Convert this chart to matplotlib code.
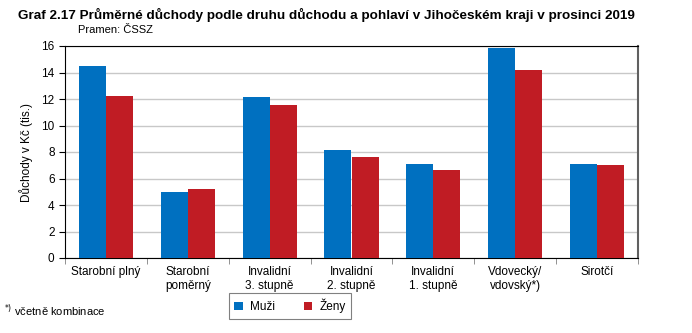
import matplotlib.pyplot as plt
import numpy as np

plt.rcParams['font.family'] = ['Liberation Sans', 'DejaVu Sans']

kategorie = ['Starobní plný', 'Starobní\npoměrný', 'Invalidní\n3. stupně', 'Invalidní\n2. stupně',
             'Invalidní\n1. stupně', 'Vdovecký/\nvdovský*)', 'Sirotčí']
muzi = [14.5, 4.98, 12.15, 8.15, 7.1, 15.85, 7.1]
zeny = [12.25, 5.2, 11.55, 7.65, 6.65, 14.2, 7.05]

fig = plt.figure(figsize=(6.92, 3.33), dpi=100)
ax = fig.add_axes([65 / 692, 1 - 258 / 333, 573 / 692, 212 / 333])

x = np.arange(len(kategorie))
w = 0.33
ax.bar(x - w / 2, muzi, w, color='#0070C0', label='Muži', zorder=3)
ax.bar(x + w / 2, zeny, w, color='#C01C24', label='Ženy', zorder=3)

ax.set_xlim(-0.5, len(kategorie) - 0.5)
ax.set_ylim(0, 16)
ax.set_yticks(range(0, 17, 2))
ax.yaxis.grid(True, color='#C8C8C8', linewidth=1, zorder=0)
ax.set_xticks(x)
ax.set_xticklabels(kategorie, fontsize=8.5)
ax.tick_params(axis='x', length=0, pad=6)
ax.set_xticks(np.arange(-0.5, len(kategorie), 1), minor=True)
ax.tick_params(axis='x', which='minor', length=4, color='#808080')
ax.tick_params(axis='y', labelsize=8.5, length=4)
for s in ['left', 'bottom', 'top']:
    ax.spines[s].set_color('black')
ax.spines['right'].set_color('#606060')
ax.spines['right'].set_linewidth(1.5)
ax.set_ylabel('Důchody v Kč (tis.)', fontsize=8.5, labelpad=6)

fig.text(18 / 692, 1 - 15 / 333, 'Graf 2.17 Průměrné důchody podle druhu důchodu a pohlaví v Jihočeském kraji v prosinci 2019',
         fontsize=9.7, fontweight='bold', va='center')
fig.text(78 / 692, 1 - 30 / 333, 'Pramen: ČSSZ', fontsize=8, va='center')
fig.text(4 / 692, 1 - 311 / 333, '$^{*)}$ včetně kombinace', fontsize=8, va='center')

leg = fig.legend(loc='center', bbox_to_anchor=(290 / 692, 1 - 306 / 333), ncol=2, fontsize=8.5,
                 frameon=True, fancybox=False, edgecolor='#606060', handlelength=0.7, handleheight=0.7,
                 columnspacing=2.5, borderpad=0.45, handletextpad=0.6, borderaxespad=0)
leg.get_frame().set_linewidth(0.8)

fig.savefig('out.png', dpi=100)
